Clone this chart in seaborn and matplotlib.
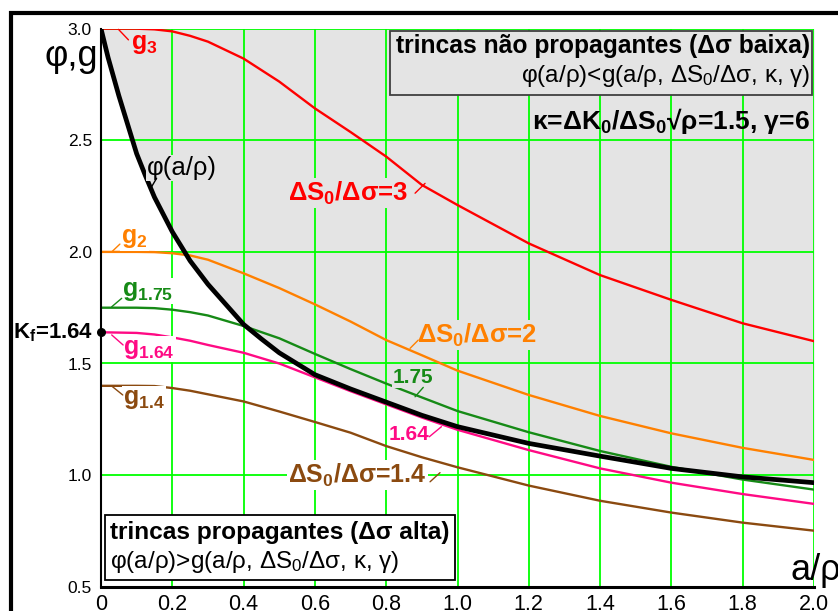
import numpy as np
import pandas as pd
import matplotlib
matplotlib.use("Agg")
import matplotlib.pyplot as plt
from matplotlib.patches import Rectangle
import seaborn as sns

# ---- data: notch factor phi(a/rho) and the g curves for several dS0/dsigma ----
x_phi = [0.00, 0.02, 0.05, 0.075, 0.10, 0.125, 0.15, 0.20, 0.25, 0.30, 0.35, 0.40,
         0.45, 0.50, 0.60, 0.70, 0.80, 0.90, 1.00, 1.20, 1.40, 1.60, 1.80, 2.00]
phi = [3.00, 2.87, 2.70, 2.57, 2.44, 2.34, 2.245, 2.09, 1.96, 1.855, 1.765, 1.675,
       1.61, 1.548, 1.45, 1.386, 1.327, 1.268, 1.217, 1.142, 1.085, 1.030, 0.992, 0.966]

x_g = [0.0, 0.1, 0.15, 0.2, 0.25, 0.3, 0.4, 0.5, 0.6, 0.7, 0.8, 0.9, 1.0,
       1.2, 1.4, 1.6, 1.8, 2.0]
g_3 = [3.00, 3.00, 2.997, 2.988, 2.968, 2.942, 2.866, 2.763, 2.643, 2.537, 2.427,
       2.30, 2.21, 2.038, 1.896, 1.785, 1.68, 1.60]
g_2 = [2.00, 2.00, 1.999, 1.994, 1.984, 1.965, 1.904, 1.838, 1.765, 1.688, 1.605,
       1.537, 1.468, 1.359, 1.265, 1.187, 1.122, 1.068]
g_175 = [1.75, 1.75, 1.748, 1.741, 1.73, 1.715, 1.668, 1.613, 1.543, 1.475, 1.41,
         1.348, 1.287, 1.192, 1.108, 1.037, 0.98, 0.935]
g_164 = [1.64, 1.637, 1.63, 1.617, 1.602, 1.583, 1.548, 1.50, 1.438, 1.376, 1.317,
         1.258, 1.203, 1.112, 1.030, 0.966, 0.915, 0.871]
g_14 = [1.40, 1.40, 1.399, 1.39, 1.378, 1.362, 1.33, 1.285, 1.238, 1.19, 1.13,
        1.08, 1.035, 0.953, 0.885, 0.832, 0.787, 0.751]
KF = 1.64

x_ticks = [0.0, 0.2, 0.4, 0.6, 0.8, 1.0, 1.2, 1.4, 1.6, 1.8, 2.0]
x_ticklabels = ["0", "0.2", "0.4", "0.6", "0.8", "1.0", "1.2", "1.4", "1.6", "1.8", "2.0"]
y_ticks = [0.5, 1.0, 1.5, 2.0, 2.5, 3.0]
y_ticklabels = ["0.5", "1.0", "1.5", "2.0", "2.5", "3.0"]

df_phi = pd.DataFrame({"a_rho": x_phi, "phi": phi})
df_g = pd.DataFrame({"a_rho": x_g, "g3": g_3, "g2": g_2, "g175": g_175,
                     "g164": g_164, "g14": g_14})

# ---- style ----
sns.set_theme(style="white")
FAM = ["Liberation Sans", "DejaVu Sans"]
plt.rcParams["font.family"] = FAM
plt.rcParams["mathtext.fontset"] = "custom"
plt.rcParams["mathtext.default"] = "regular"

GRID = "#00ff00"
SHADE = "#e4e4e4"
C3, C2, C175, C164, C14 = "#ff0000", "#ff8000", "#168a16", "#ff0a84", "#8b4a10"

fig = plt.figure(figsize=(8.38, 6.11), dpi=100)
ax = fig.add_axes([101 / 838, 24.3 / 611, 713 / 838, 558 / 611])
ax.set_facecolor("white")

# shaded region above phi (non-propagating cracks)
ax.fill_between(x_phi, phi, 3.0, color=SHADE, lw=0, zorder=0.1)

# g curves and phi
for col, c in [("g3", C3), ("g2", C2), ("g175", C175), ("g14", C14), ("g164", C164)]:
    sns.lineplot(data=df_g, x="a_rho", y=col, color=c, lw=1.7, ax=ax, zorder=2)
sns.lineplot(data=df_phi, x="a_rho", y="phi", color="black", lw=3.4, ax=ax, zorder=3)
ax.scatter([x_g[0]], [KF], s=30, color="black", zorder=6, clip_on=False)

# axes
ax.set_xlim(0, 2.0)
ax.set_ylim(0.5, 3.0)
ax.set_xticks(x_ticks)
ax.set_xticklabels(x_ticklabels)
ax.set_yticks(y_ticks)
ax.set_yticklabels(y_ticklabels)
ax.set_xlabel("")
ax.set_ylabel("")
ax.set_axisbelow(True)
ax.grid(True, color=GRID, lw=1.3)
for s in ("top", "right"):
    ax.spines[s].set_visible(False)
ax.spines["left"].set_linewidth(1.5)
ax.spines["left"].set_color("black")
ax.spines["bottom"].set_linewidth(2.2)
ax.spines["bottom"].set_color("black")
ax.tick_params(axis="y", direction="out", length=5, width=1.2, color="black",
               labelsize=12.5, pad=1.5, labelcolor="black")
ax.tick_params(axis="x", direction="out", length=4.3, width=1.2, color="black",
               labelsize=15.5, pad=0.8, labelcolor="black")

def lbl(x, y, s, color, size, weight="bold", bg=None, ha="left", va="center"):
    kw = {}
    if bg is not None:
        kw["bbox"] = dict(boxstyle="square,pad=0.05", fc=bg, ec="none")
    ax.text(x, y, s, color=color, fontsize=size, fontweight=weight, ha=ha, va=va,
            family=FAM, zorder=5, clip_on=False, **kw)

def lead(x0, y0, x1, y1, color):
    ax.annotate("", xy=(x0, y0), xytext=(x1, y1),
                arrowprops=dict(arrowstyle="-", color=color, lw=1.0,
                                shrinkA=0, shrinkB=0), zorder=5)

# curve names near the left axis
lbl(0.083, 2.909, r"g$_{3}$", C3, 18, bg=SHADE, va="baseline")
lead(0.049, 2.997, 0.077, 2.95, C3)
lbl(0.056, 2.042, r"g$_{2}$", C2, 18, bg="white", va="baseline")
lead(0.030, 2.000, 0.053, 2.035, C2)
lbl(0.059, 1.802, r"g$_{1.75}$", C175, 18, bg="white", va="baseline")
lead(0.030, 1.754, 0.058, 1.792, C175)
lbl(0.062, 1.543, r"g$_{1.64}$", C164, 18, bg="white", va="baseline")
lead(0.030, 1.628, 0.062, 1.583, C164)
lbl(0.062, 1.319, r"g$_{1.4}$", C14, 18, bg="white", va="baseline")
lead(0.030, 1.399, 0.061, 1.359, C14)

# labels along the curves
lbl(0.129, 2.376, "φ(a/ρ)", "black", 18.5, weight="normal", bg=SHADE)
lead(0.142, 2.292, 0.156, 2.330, "black")
lbl(0.525, 2.264, r"ΔS$_0$/Δσ=3", C3, 18.5, bg=SHADE)
lead(0.909, 2.307, 0.881, 2.263, C3)
lbl(0.886, 1.628, r"ΔS$_0$/Δσ=2", C2, 18.5, bg=SHADE)
lead(0.867, 1.568, 0.890, 1.605, C2)
lbl(0.819, 1.437, "1.75", C175, 15, bg=SHADE)
lead(0.881, 1.351, 0.904, 1.393, C175)
lbl(0.806, 1.184, "1.64", C164, 15, bg="white")
lead(0.955, 1.217, 0.921, 1.172, C164)
lbl(0.525, 1.000, r"ΔS$_0$/Δσ=1.4", C14, 18, bg="white")
lead(0.951, 1.011, 0.923, 0.970, C14)

# K_f marker label
lbl(-0.022, KF, r"K$_{f}$=1.64", "black", 16, ha="right")

# region boxes
ax.add_patch(Rectangle((0.811, 2.703), 1.183, 0.287, fc=SHADE, ec="#404040",
                       lw=1.3, zorder=4))
lbl(1.989, 2.922, "trincas não propagantes (Δσ baixa)", "black", 17.7, ha="right")
lbl(1.989, 2.788, r"φ(a/ρ)<g(a/ρ, ΔS$_0$/Δσ, κ, γ)", "black", 17.5, weight="normal",
    ha="right")
lbl(1.989, 2.585, r"κ=ΔK$_0$/ΔS$_0$√ρ=1.5, γ=6", "black", 19, ha="right")

ax.add_patch(Rectangle((0.0112, 0.530), 0.982, 0.291, fc="white", ec="black",
                       lw=1.3, zorder=4))
lbl(0.025, 0.741, "trincas propagantes (Δσ alta)", "black", 17.6)
lbl(0.025, 0.611, r"φ(a/ρ)>g(a/ρ, ΔS$_0$/Δσ, κ, γ)", "black", 17.5, weight="normal")

# axis names
fig.text(98 / 838, 1 - 57 / 611, "φ,g", ha="right", va="center", fontsize=26,
         family=FAM, color="black")
fig.text(790 / 838, 1 - 570 / 611, "a/ρ", ha="left", va="center", fontsize=26,
         family=FAM, color="black")

# outer frame
fig.add_artist(Rectangle((10.5 / 838, -0.2), 2.0, (611 - 13) / 611 + 0.2,
                         transform=fig.transFigure, fill=False, lw=3, ec="black",
                         clip_on=False))

fig.savefig("out.png", dpi=100)
